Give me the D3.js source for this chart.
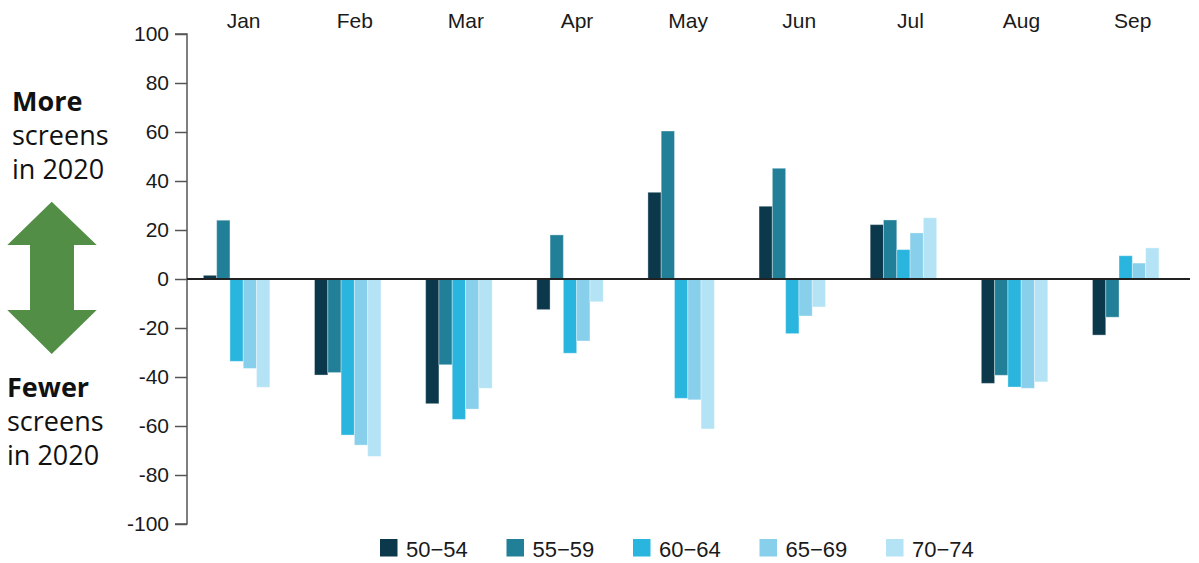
<!DOCTYPE html>
<html>
<head>
<meta charset="utf-8">
<script src="https://cdn.jsdelivr.net/npm/d3@7"></script>
<style>
  html, body { margin: 0; padding: 0; background: #fff; }
  svg { display: block; }
</style>
</head>
<body>
<svg id="chart" width="1199" height="563"></svg>
<script>
const months = ["Jan","Feb","Mar","Apr","May","Jun","Jul","Aug","Sep"];
const ages = ["50\u221254","55\u221259","60\u221264","65\u221269","70\u221274"];
const colors = ["#0b394b","#227f98","#29b5de","#87cfea","#b4e3f5"];
const s50_54 = [1.5, -39.2, -50.9, -12.5, 35.4, 29.7, 22.2, -42.6, -22.9];
const s55_59 = [24.0, -38.2, -35.0, 18.0, 60.4, 45.2, 24.1, -39.3, -15.6];
const s60_64 = [-33.6, -63.7, -57.3, -30.3, -48.7, -22.3, 12.0, -44.1, 9.5];
const s65_69 = [-36.5, -67.8, -53.1, -25.3, -49.3, -15.1, 18.8, -44.6, 6.5];
const s70_74 = [-44.2, -72.4, -44.6, -9.3, -61.2, -11.4, 25.0, -42.0, 12.7];
const series = [s50_54, s55_59, s60_64, s65_69, s70_74];
const yTicks = [100, 80, 60, 40, 20, 0, -20, -40, -60, -80, -100];

const svg = d3.select("#chart");
const axisX = 187, rightX = 1190;

const x = d3.scaleBand().domain(months).range([axisX, rightX])
  .paddingInner(0.402).paddingOuter(0.2135).align(0.345);
const xi = d3.scaleBand().domain(ages).range([0, x.bandwidth()]);
const y = d3.scaleLinear().domain([-100, 100]).range([524, 34]);

// y axis
const yAxis = svg.append("g")
  .attr("transform", `translate(${axisX},0)`)
  .call(d3.axisLeft(y).tickValues(yTicks).tickSize(12).tickPadding(6).tickFormat(d => String(d)));
yAxis.select(".domain").attr("stroke", "#555").attr("stroke-width", 1.5)
  .attr("d", `M-12,${y(100)}H0V${y(-100)}H-12`);
yAxis.selectAll(".tick line").attr("stroke", "#555").attr("stroke-width", 1.5);
yAxis.selectAll(".tick text")
  .attr("fill", "#1a1a1a")
  .style("font-family", "'Liberation Sans', Arial, sans-serif")
  .style("font-size", "21px");

// bars
const groups = svg.append("g").selectAll("g")
  .data(months).join("g")
  .attr("transform", d => `translate(${x(d)},0)`);
groups.selectAll("rect")
  .data((m, mi) => ages.map((a, ai) => ({ a, ai, v: series[ai][mi] })))
  .join("rect")
  .attr("x", d => xi(d.a))
  .attr("width", xi.bandwidth())
  .attr("y", d => y(Math.max(0, d.v)))
  .attr("height", d => Math.abs(y(d.v) - y(0)))
  .attr("fill", d => colors[d.ai])
  .attr("stroke", "#ffffff")
  .attr("stroke-opacity", 0.35)
  .attr("stroke-width", 1);

// zero line
svg.append("line")
  .attr("x1", axisX).attr("x2", rightX)
  .attr("y1", y(0)).attr("y2", y(0))
  .attr("stroke", "#222").attr("stroke-width", 2);

// month labels at top
svg.append("g").selectAll("text")
  .data(months).join("text")
  .attr("x", d => x(d) + x.bandwidth() / 2 + 7)
  .attr("y", 28)
  .attr("text-anchor", "middle")
  .attr("fill", "#1a1a1a")
  .style("font-family", "'Liberation Sans', Arial, sans-serif")
  .style("font-size", "21px")
  .text(d => d);

// legend
const legend = svg.append("g").selectAll("g")
  .data(ages).join("g")
  .attr("transform", (d, i) => `translate(${380 + i * 126.5},539)`);
legend.append("rect").attr("width", 17.5).attr("height", 17.5)
  .attr("fill", (d, i) => colors[i]);
legend.append("text")
  .attr("x", 26).attr("y", 17.5)
  .attr("fill", "#1a1a1a")
  .style("font-family", "'Liberation Sans', Arial, sans-serif")
  .style("font-size", "22px")
  .text(d => d);

// left annotations
const ann = svg.append("g").style("font-family", "'Open Sans', 'Noto Sans', sans-serif").style("font-size", "27px").attr("fill", "#111");
const moreLines = [["More", 700], ["screens", 400], ["in 2020", 400]];
const fewerLines = [["Fewer", 700], ["screens", 400], ["in 2020", 400]];
ann.selectAll("text.more").data(moreLines).join("text")
  .attr("class", "more")
  .attr("x", 12).attr("y", (d, i) => 111 + i * 34)
  .style("font-weight", d => d[1]).text(d => d[0]);
ann.selectAll("text.fewer").data(fewerLines).join("text")
  .attr("class", "fewer")
  .attr("x", 7).attr("y", (d, i) => 397 + i * 34)
  .style("font-weight", d => d[1]).text(d => d[0]);

// double arrow
svg.append("path")
  .attr("d", "M51.7,201.7 L96.7,245 L74,245 L74,310 L96.7,310 L51.7,354 L7.3,310 L30,310 L30,245 L7.3,245 Z")
  .attr("fill", "#538e47");
</script>
</body>
</html>
